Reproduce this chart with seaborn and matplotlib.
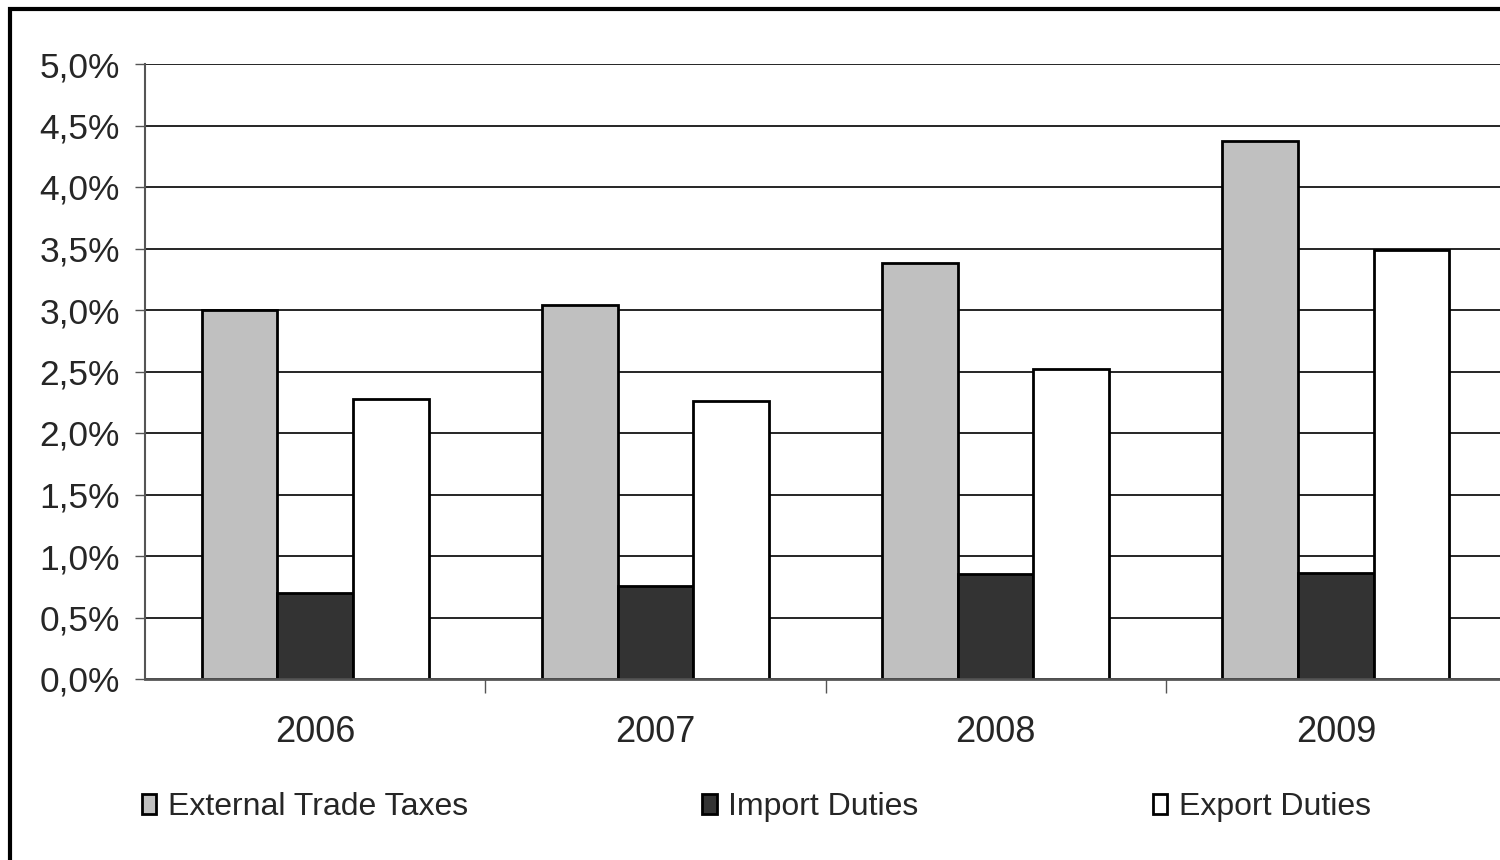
import matplotlib
matplotlib.use("Agg")
import matplotlib.pyplot as plt
from matplotlib.patches import Rectangle
from matplotlib.ticker import FuncFormatter, FixedLocator
import pandas as pd
import seaborn as sns

# chart values (percent)
years = ["2006", "2007", "2008", "2009"]
series = ["External Trade Taxes", "Import Duties", "Export Duties"]
external_trade_taxes = [3.00, 3.04, 3.38, 4.37]
import_duties = [0.70, 0.76, 0.85, 0.86]
export_duties = [2.28, 2.26, 2.52, 3.49]
colors = ["#C0C0C0", "#333333", "#FFFFFF"]

df = pd.DataFrame({
    "year": years * 3,
    "series": [series[0]] * 4 + [series[1]] * 4 + [series[2]] * 4,
    "value": external_trade_taxes + import_duties + export_duties,
})

sns.set_theme(style="white")
plt.rcParams["font.family"] = ["Liberation Sans", "DejaVu Sans"]

fig = plt.figure(figsize=(15, 8.6), dpi=100)
ax = fig.add_axes([145 / 1500, 1 - 679 / 860, (1506 - 145) / 1500, (679 - 64) / 860])

sns.barplot(data=df, x="year", y="value", hue="series", hue_order=series,
            palette=colors, edgecolor="black", linewidth=2, width=0.667,
            saturation=1, ax=ax, legend=True)

ax.set_xlim(-0.5, 3.5)
ax.set_ylim(0, 5)
ax.set_yticks([i * 0.5 for i in range(11)])
ax.yaxis.set_major_formatter(FuncFormatter(lambda v, p: f"{v:.1f}%".replace(".", ",")))
ax.grid(axis="y", color="black", lw=1.2)
ax.set_axisbelow(True)
ax.set_xlabel("")
ax.set_ylabel("")

for s in ["top", "right"]:
    ax.spines[s].set_visible(False)
ax.spines["left"].set_color("#555555")
ax.spines["bottom"].set_color("#555555")
ax.spines["left"].set_linewidth(1.5)
ax.spines["bottom"].set_linewidth(2)

ax.tick_params(axis="y", which="major", left=True, length=7, width=1, color="#555555",
               labelsize=25.5, pad=11)
ax.tick_params(axis="x", which="major", bottom=False, labelsize=26, pad=20)
ax.xaxis.set_minor_locator(FixedLocator([0.5, 1.5, 2.5]))
ax.tick_params(axis="x", which="minor", bottom=True, length=10, width=1, color="#555555")

handles, labels = ax.get_legend_handles_labels()
ax.legend_.remove()
fig.legend(handles, labels, loc="center left", bbox_to_anchor=(142 / 1500, 1 - 807 / 860),
           ncol=3, frameon=False, fontsize=23, borderpad=0, borderaxespad=0,
           handlelength=0.45, handleheight=0.6, handletextpad=0.35, columnspacing=7.35)

# outer chart border
fig.patches.append(Rectangle((10 / 1500, -0.2), 1.2, 1 - 9 / 860 + 0.2,
                             transform=fig.transFigure, fill=False,
                             edgecolor="black", lw=3, zorder=10))

fig.savefig("out.png", dpi=100)
